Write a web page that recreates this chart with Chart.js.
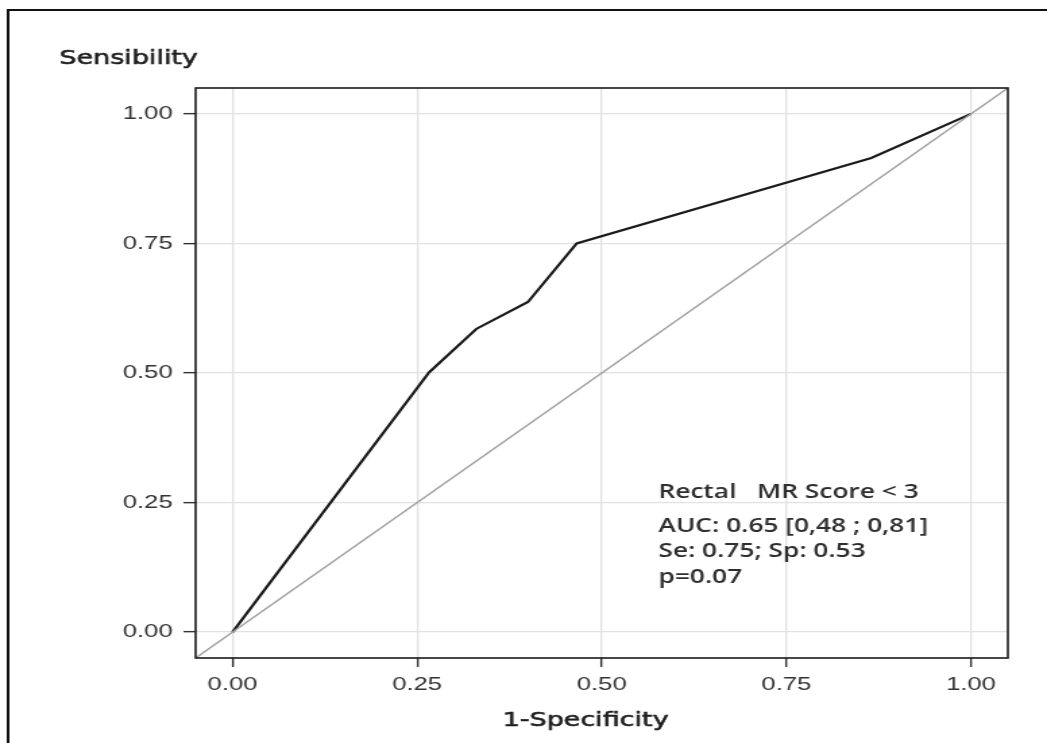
<!DOCTYPE html>
<html>
<head>
<meta charset="utf-8">
<script src="https://cdn.jsdelivr.net/npm/chart.js@4/dist/chart.umd.min.js"></script>
<style>
  html, body { margin: 0; padding: 0; background: #ffffff; overflow: hidden; }
  #c { position: absolute; left: 0; top: 0; }
</style>
</head>
<body>
<canvas id="c" width="776" height="743" style="width:1047px;height:743px;"></canvas>
<script>
// ---- data ----
const fprValues = [0, 0.266, 0.330, 0.400, 0.466, 0.865, 1];
const tprValues = [0, 0.501, 0.585, 0.637, 0.750, 0.915, 1];
const diagX = [-0.05, 1.05];
const diagY = [-0.05, 1.05];
const tickValues = [0, 0.25, 0.5, 0.75, 1];
const tickLabels = ['0.00', '0.25', '0.50', '0.75', '1.00'];
const yTitle = 'Sensibility';
const xTitle = '1-Specificity';
const annotationLines = ['Rectal   MR Score < 3', 'AUC: 0.65 [0,48 ; 0,81]', 'Se: 0.75; Sp: 0.53', 'p=0.07'];

const rocData = fprValues.map((x, i) => ({ x: x, y: tprValues[i] }));
const diagData = diagX.map((x, i) => ({ x: x, y: diagY[i] }));

const decorPlugin = {
  id: 'decor',
  beforeDraw(chart) {
    const ctx = chart.ctx;
    ctx.save();
    ctx.fillStyle = '#ffffff';
    ctx.fillRect(0, 0, chart.width, chart.height);
    // outer frame (top and left)
    ctx.strokeStyle = '#111';
    ctx.lineWidth = 2;
    ctx.beginPath();
    ctx.moveTo(6, 743);
    ctx.lineTo(6, 10);
    ctx.lineTo(chart.width, 10);
    ctx.stroke();
    ctx.restore();
  },
  afterDraw(chart) {
    const ctx = chart.ctx;
    const a = chart.chartArea;
    ctx.save();
    // panel frame
    ctx.strokeStyle = '#1a1a1a';
    ctx.lineWidth = 1.6;
    ctx.strokeRect(a.left, a.top, a.right - a.left, a.bottom - a.top);
    // axis titles
    ctx.fillStyle = '#1e1e1e';
    ctx.strokeStyle = '#1e1e1e';
    ctx.lineWidth = 0.6;
    ctx.font = '20px "DejaVu Sans"';
    ctx.textBaseline = 'alphabetic';
    ctx.textAlign = 'left';
    ctx.fillText(yTitle, 44, 64);
    ctx.strokeText(yTitle, 44, 64);
    ctx.textAlign = 'center';
    ctx.fillText(xTitle, 434, 726);
    ctx.strokeText(xTitle, 434, 726);
    // annotation
    ctx.fillStyle = '#2e2e2e';
    ctx.font = '600 19.5px "Open Sans"';
    ctx.textAlign = 'left';
    const baselines = [498, 532, 557, 583];
    annotationLines.forEach((t, i) => ctx.fillText(t, 488, baselines[i]));
    ctx.restore();
  }
};

const fixTicks = (scale) => { scale.ticks = tickValues.map(v => ({ value: v })); };

new Chart(document.getElementById('c'), {
  type: 'scatter',
  data: {
    datasets: [
      { data: diagData, showLine: true, borderColor: '#a0a0a0', borderWidth: 1.4, pointRadius: 0, tension: 0 },
      { data: rocData, showLine: true, borderColor: '#1a1a1a', borderWidth: 2.2, pointRadius: 0, tension: 0 }
    ]
  },
  options: {
    responsive: false,
    animation: false,
    events: [],
    layout: { padding: { left: 0, right: 29, top: 88, bottom: 0 } },
    plugins: { legend: { display: false }, tooltip: { enabled: false } },
    scales: {
      x: {
        type: 'linear', position: 'bottom', min: -0.05, max: 1.05,
        afterBuildTicks: fixTicks,
        afterFit: (s) => { s.height = 85; },
        border: { display: false },
        grid: { color: '#e2e2e2', lineWidth: 1.3, tickColor: '#333', tickWidth: 1.4, tickLength: 9, drawOnChartArea: true },
        ticks: { color: '#333', font: { family: '"Liberation Sans"', size: 19 }, padding: 6,
                 callback: (v) => tickLabels[tickValues.indexOf(v)] }
      },
      y: {
        type: 'linear', position: 'left', min: -0.05, max: 1.05,
        afterBuildTicks: fixTicks,
        afterFit: (s) => { s.width = 145; },
        border: { display: false },
        grid: { color: '#e2e2e2', lineWidth: 1.3, tickColor: '#333', tickWidth: 1.4, tickLength: 9, drawOnChartArea: true },
        ticks: { color: '#333', font: { family: '"Liberation Sans"', size: 19 }, padding: 8,
                 callback: (v) => tickLabels[tickValues.indexOf(v)] }
      }
    }
  },
  plugins: [decorPlugin]
});
</script>
</body>
</html>
